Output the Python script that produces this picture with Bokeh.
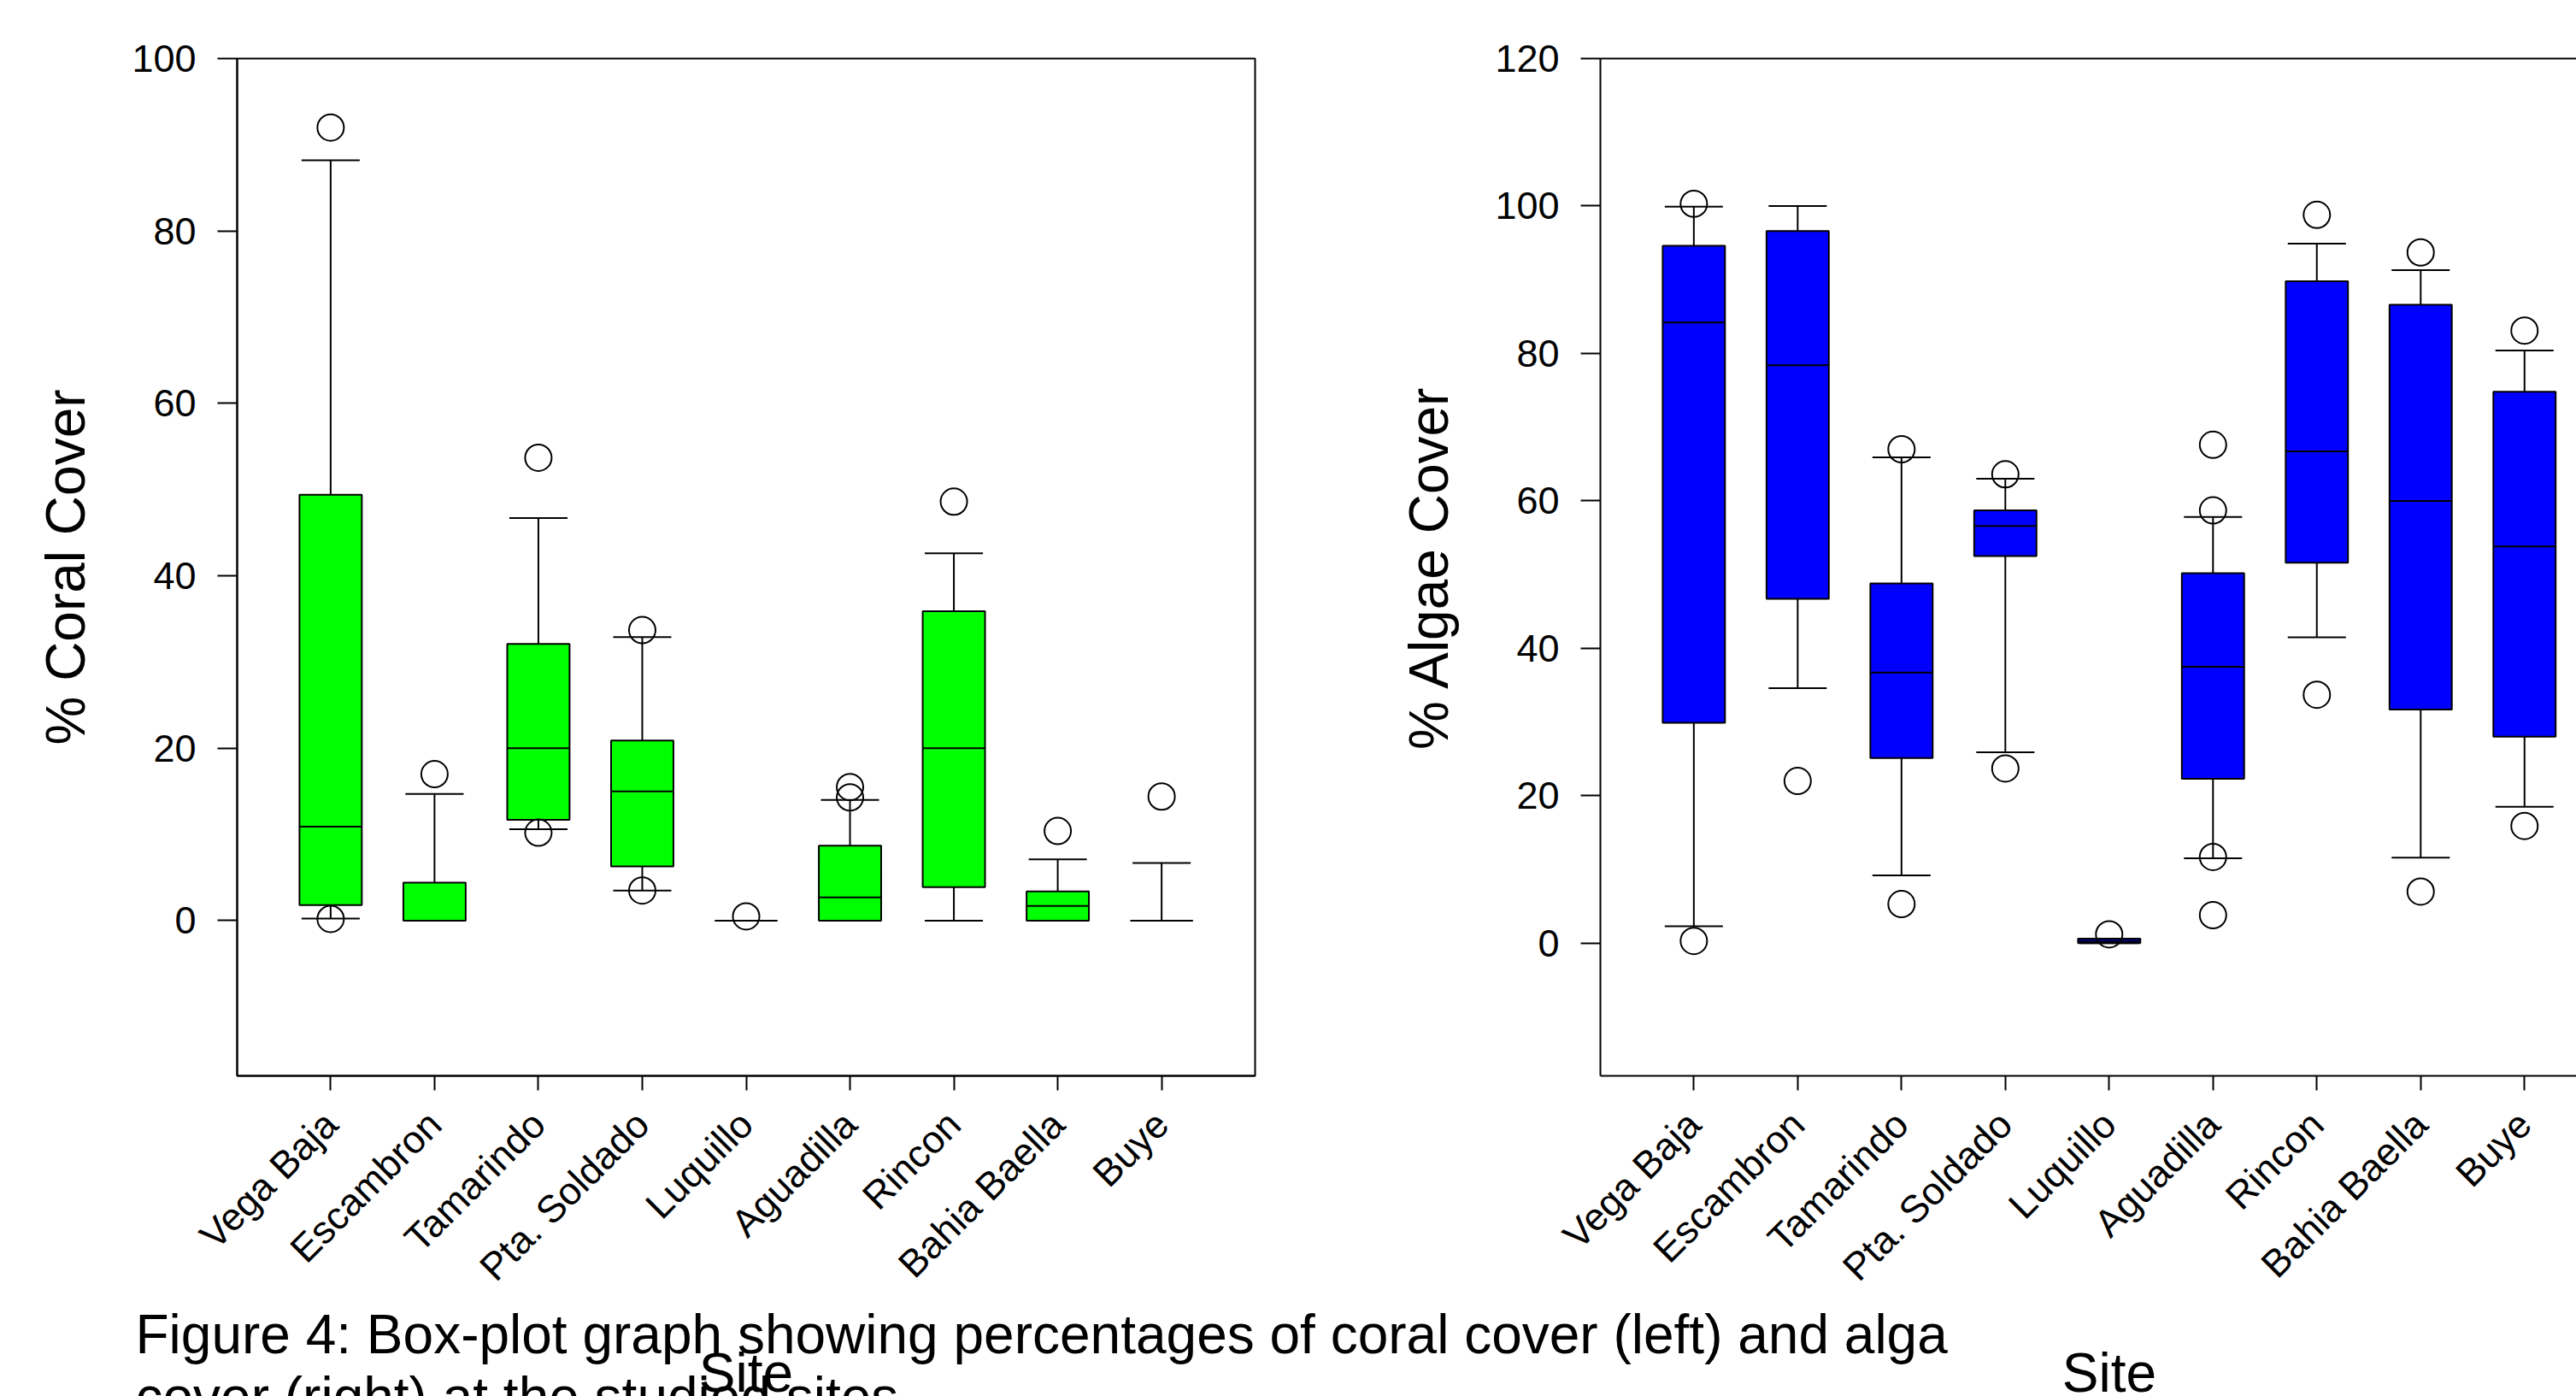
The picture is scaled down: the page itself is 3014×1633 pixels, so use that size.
import math
from bokeh.plotting import figure
from bokeh.models import Range1d, FixedTicker, LinearAxis, Label
from bokeh.layouts import row, column
from bokeh.embed import file_html
from bokeh.resources import INLINE

# ---------------- data ----------------
sites = ["Vega Baja", "Escambron", "Tamarindo", "Pta. Soldado", "Luquillo",
         "Aguadilla", "Rincon", "Bahia Baella", "Buye"]

coral_whi = [88.2, 14.7, 46.7, 32.9, 0.0, 14.0, 42.6, 7.1, 6.7]
coral_q3 = [49.4, 4.4, 32.1, 20.9, 0.0, 8.7, 35.9, 3.4, 0.0]
coral_med = [10.9, 0.0, 20.0, 15.0, 0.0, 2.7, 20.0, 1.7, 0.0]
coral_q1 = [1.8, 0.0, 11.7, 6.3, 0.0, 0.0, 3.9, 0.0, 0.0]
coral_wlo = [0.25, 0.0, 10.6, 3.5, 0.0, 0.0, 0.0, 0.0, 0.0]
coral_out = [[92.0, 0.2], [17.0], [53.7, 10.2], [33.7, 3.5], [0.5],
             [15.5, 14.3], [48.6], [10.4], [14.4]]

algae_whi = [99.9, 100.0, 65.9, 63.0, 0.6, 57.8, 94.9, 91.3, 80.4]
algae_q3 = [94.6, 96.6, 48.8, 58.7, 0.6, 50.2, 89.8, 86.6, 74.8]
algae_med = [84.2, 78.4, 36.7, 56.6, 0.3, 37.5, 66.7, 60.0, 53.8]
algae_q1 = [29.9, 46.7, 25.1, 52.5, 0.0, 22.3, 51.6, 31.7, 28.0]
algae_wlo = [2.3, 34.6, 9.2, 25.9, 0.0, 11.5, 41.5, 11.6, 18.5]
algae_out = [[100.3, 0.3], [22.0], [67.0, 5.3], [63.6, 23.7], [1.2],
             [67.6, 58.7, 11.7, 3.8], [98.8, 33.7], [93.7, 7.0], [83.1, 15.9]]

coral_yticks = [0, 20, 40, 60, 80, 100]
algae_yticks = [0, 20, 40, 60, 80, 100, 120]

caption1 = "Figure 4: Box-plot graph showing percentages of coral cover (left) and alga"
caption2 = "cover (right) at the studied sites"
xlabel = "Site"

# ---------------- layout constants ----------------
FONT = "Liberation Sans"
BOX_W = 0.6
CAP_W = 0.56
PAGE_W = 3014
PAGE_H = 1633
TOP = 68            # frame top (px)
FRAME_H = 1190      # frame height (px)
P1_LEFT = 277       # left frame left edge (page px)
P1_W = 1476         # left canvas width
P2_LEFT = 1872      # right frame left edge (page px)
P2_W = PAGE_W - P1_W
FULL_FRAME_W = 1191
STRIP_H = 120
TEXT_SHIFT = 25     # empirical correction of the label baseline (px)


def make_panel(width, canvas_x, frame_left, frame_w, xend, yrange, yticks,
               ylabel, q1, med, q3, wlo, whi, outs, color, closed):
    p = figure(width=width, height=PAGE_H, title=None,
               x_range=Range1d(-0.4, xend), y_range=Range1d(*yrange),
               output_backend="svg", toolbar_location=None,
               min_border_left=frame_left - canvas_x,
               min_border_right=width - (frame_left - canvas_x) - frame_w,
               min_border_top=TOP,
               min_border_bottom=PAGE_H - TOP - FRAME_H)
    p.background_fill_color = "white"
    p.border_fill_color = "white"
    p.grid.visible = False
    if closed:
        p.outline_line_color = "black"
        p.outline_line_width = 2
        p.outline_line_alpha = 1.0
    else:
        p.outline_line_color = None

    xs = [i + 0.5 for i in range(len(sites))]

    p.segment(x0=xs, y0=q3, x1=xs, y1=whi, line_color="black", line_width=2)
    p.segment(x0=xs, y0=wlo, x1=xs, y1=q1, line_color="black", line_width=2)
    p.vbar(x=xs, width=BOX_W, bottom=q1, top=q3, fill_color=color,
           line_color="black", line_width=2)
    p.segment(x0=[x - BOX_W / 2 for x in xs], y0=med,
              x1=[x + BOX_W / 2 for x in xs], y1=med,
              line_color="black", line_width=2)
    p.segment(x0=[x - CAP_W / 2 for x in xs], y0=whi,
              x1=[x + CAP_W / 2 for x in xs], y1=whi,
              line_color="black", line_width=2)
    p.segment(x0=[x - CAP_W / 2 for x in xs], y0=wlo,
              x1=[x + CAP_W / 2 for x in xs], y1=wlo,
              line_color="black", line_width=2)
    ox, oy = [], []
    for x, vals in zip(xs, outs):
        for v in vals:
            ox.append(x)
            oy.append(v)
    p.scatter(x=ox, y=oy, marker="circle", size=31, fill_color=None,
              line_color="black", line_width=2)

    xa = p.xaxis[0]
    xa.ticker = FixedTicker(ticks=xs)
    xa.major_label_overrides = {x: s for x, s in zip(xs, sites)}
    xa.major_label_orientation = math.pi / 4
    xa.major_label_text_font = FONT
    xa.major_label_text_font_size = "45px"
    xa.major_label_text_color = "black"
    xa.major_label_standoff = 32
    xa.major_tick_out = 17
    xa.major_tick_in = 0
    xa.minor_tick_line_color = None
    xa.axis_line_width = 2
    xa.major_tick_line_width = 2

    ya = p.yaxis[0]
    ya.ticker = FixedTicker(ticks=yticks)
    ya.major_label_text_font = FONT
    ya.major_label_text_font_size = "45px"
    ya.major_label_text_color = "black"
    ya.major_label_standoff = 25
    ya.major_tick_out = 23
    ya.major_tick_in = 0
    ya.minor_tick_line_color = None
    ya.axis_line_width = 2
    ya.major_tick_line_width = 2
    ya.axis_label = ylabel
    ya.axis_label_text_font = FONT
    ya.axis_label_text_font_size = "64px"
    ya.axis_label_text_font_style = "normal"
    ya.axis_label_text_color = "black"
    ya.axis_label_standoff = 38

    if not closed:
        top = LinearAxis(ticker=FixedTicker(ticks=[]), axis_line_width=2,
                         major_label_text_font_size="0px", major_tick_out=0,
                         major_tick_in=0, minor_tick_out=0, minor_tick_in=0)
        p.add_layout(top, "above")
    return p


p1 = make_panel(P1_W, 0, P1_LEFT, FULL_FRAME_W, 9.4, (-18, 100), coral_yticks,
                "% Coral Cover", coral_q1, coral_med, coral_q3, coral_wlo,
                coral_whi, coral_out, "#00FF00", True)
p2 = make_panel(P2_W, P1_W, P2_LEFT, PAGE_W - P2_LEFT, 9.0, (-18, 120),
                algae_yticks, "% Algae Cover", algae_q1, algae_med, algae_q3,
                algae_wlo, algae_whi, algae_out, "#0000FF", False)

# transparent strip laid over the bottom of the page for caption and titles
strip = figure(width=PAGE_W, height=STRIP_H, title=None,
               x_range=Range1d(0, PAGE_W), y_range=Range1d(PAGE_H - STRIP_H, PAGE_H),
               output_backend="svg", toolbar_location=None, min_border=0,
               x_axis_type=None, y_axis_type=None)
strip.outline_line_color = None
strip.background_fill_color = None
strip.border_fill_color = None
strip.margin = (-STRIP_H, 0, 0, 0)


def add_text(page_x, page_y, text, size, align="left"):
    # strip y axis runs upward: convert a page row (from top) to it
    y = PAGE_H - (page_y - TEXT_SHIFT) + (PAGE_H - STRIP_H)
    strip.add_layout(Label(x=page_x, y=y, text=text, text_font=FONT,
                           text_font_size=size, text_color="black",
                           text_baseline="alphabetic", text_align=align))


add_text(158, 1585, caption1, "64px")
add_text(158, 1658, caption2, "64px")
add_text(P1_LEFT + FULL_FRAME_W / 2, 1630, xlabel, "64px", "center")
add_text(P2_LEFT + FULL_FRAME_W / 2, 1630, xlabel, "64px", "center")

layout = column(row(p1, p2), strip)
open("out.html", "w").write(file_html(layout, INLINE))
